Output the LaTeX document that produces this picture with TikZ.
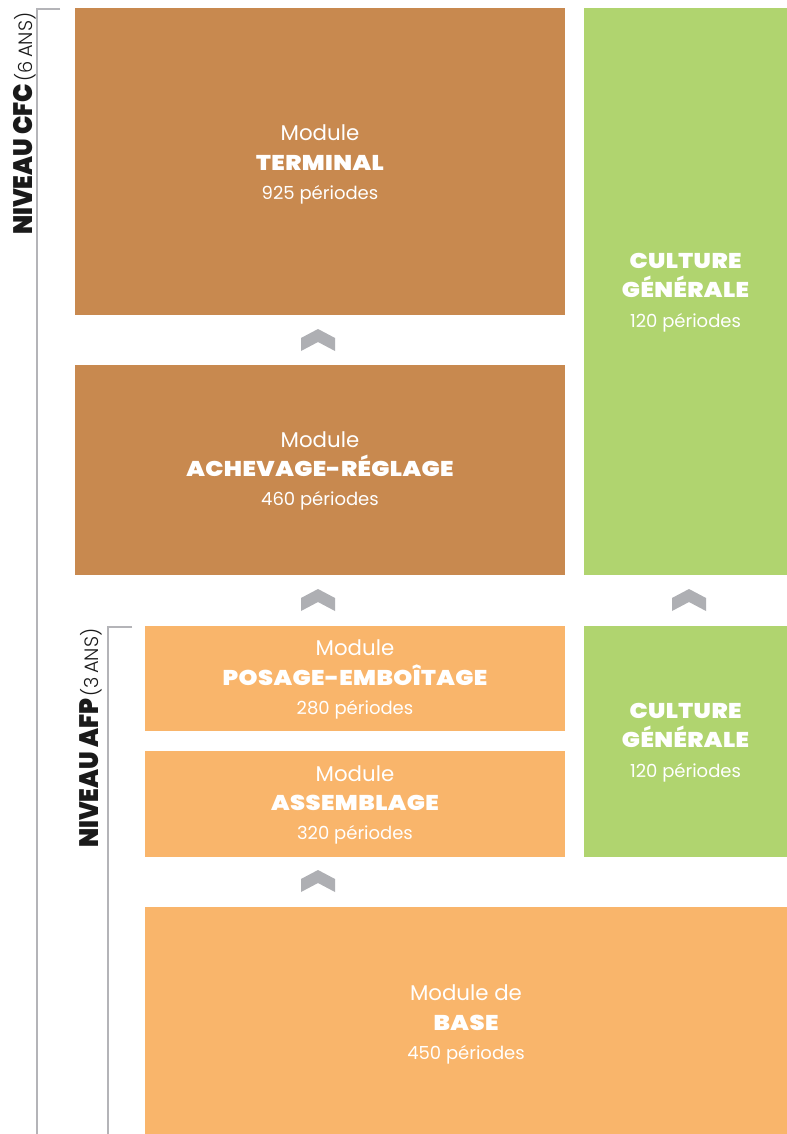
\documentclass[tikz,border=0pt]{standalone}
\usepackage{fontspec}
\setmainfont{Poppins}
\newfontfamily\heavy{Poppins Black}
\newfontfamily\light{Poppins Light}
\usetikzlibrary{calc}
\definecolor{brownbox}{HTML}{C8894F}
\definecolor{lightbox}{HTML}{F9B56B}
\definecolor{greenbox}{HTML}{B0D46F}
\definecolor{chevgray}{HTML}{AEAFB3}
\definecolor{linegray}{HTML}{B4B4B8}
\definecolor{labelblack}{HTML}{1A1A1A}
\newcommand{\hd}[1]{{\heavy\fontsize{16}{22}\selectfont\addfontfeature{FakeStretch=1.13,LetterSpace=2}#1}}
\newcommand{\pr}[1]{{\fontsize{13.5}{22}\selectfont #1}}
\newcommand{\lvlbold}[1]{{\heavy\fontsize{20}{20}\selectfont\addfontfeature{FakeStretch=0.92}#1}}
\newcommand{\lvllight}[1]{{\light\fontsize{14.5}{14.5}\selectfont #1}}
\begin{document}
\begin{tikzpicture}[x=0.75pt,y=-0.75pt,
  box/.style={rectangle, inner sep=0pt, outer sep=0pt},
  boxtext/.style={text=white, align=center, inner sep=0pt,
    font=\fontsize{16}{22}\selectfont},
  bracket/.style={draw=linegray, line width=2.2pt},
  chev/.style={fill=chevgray},
  lvl/.style={rotate=90, anchor=base west, inner sep=0pt, text=labelblack}
]
\useasboundingbox (0,0) rectangle (787,1134);
\fill[white] (0,0) rectangle (787,1134);

% boxes
\node[box, fill=brownbox, minimum width=367.5pt, minimum height=230.25pt] (term) at (320,161.5) {};
\node[box, fill=brownbox, minimum width=367.5pt, minimum height=157.5pt] (ach) at (320,470) {};
\node[box, fill=greenbox, minimum width=152.25pt, minimum height=425.25pt] (cg1) at (685.5,291.5) {};
\node[box, fill=lightbox, minimum width=315pt, minimum height=78.75pt] (pos) at (355,678.5) {};
\node[box, fill=lightbox, minimum width=315pt, minimum height=79.5pt] (ass) at (355,804) {};
\node[box, fill=greenbox, minimum width=152.25pt, minimum height=173.25pt] (cg2) at (685.5,741.5) {};
\node[box, fill=lightbox, minimum width=481.5pt, minimum height=170.25pt] (base) at (466,1020.5) {};

% texts
\node[boxtext] (termt) at ($(term.center)+(0,3)$) {Module\\\hd{TERMINAL}\\\pr{925 périodes}};
\node[boxtext] (acht) at ($(ach.center)+(0,1)$) {Module\\\hd{ACHEVAGE-RÉGLAGE}\\\pr{460 périodes}};
\node[boxtext] (cg1t) at ($(cg1.center)+(0,1)$) {\hd{CULTURE}\\\hd{GÉNÉRALE}\\\pr{120 périodes}};
\node[boxtext] (post) at ($(pos.center)+(0,1)$) {Module\\\hd{POSAGE-EMBOÎTAGE}\\\pr{280 périodes}};
\node[boxtext] (asst) at ($(ass.center)+(0,1)$) {Module\\\hd{ASSEMBLAGE}\\\pr{320 périodes}};
\node[boxtext] (cg2t) at ($(cg2.center)+(0,1)$) {\hd{CULTURE}\\\hd{GÉNÉRALE}\\\pr{120 périodes}};
\node[boxtext] (baset) at ($(base.center)+(0,4)$) {Module de\\\hd{BASE}\\\pr{450 périodes}};

% chevrons
\foreach \cx/\ty in {318/329, 318/589, 689/589, 318/870}{
  \fill[chev] (\cx-17,\ty+9) -- (\cx,\ty) -- (\cx+17,\ty+9) -- (\cx+17,\ty+22)
     -- (\cx,\ty+13) -- (\cx-17,\ty+22) -- cycle;
}

% brackets
\coordinate (cfcT) at (60,9);
\coordinate (cfcC) at (37,9);
\coordinate (cfcB) at (37,1134);
\draw[bracket] (cfcT) -- (cfcC) -- (cfcB);
\coordinate (afpT) at (132,627);
\coordinate (afpC) at (108,627);
\coordinate (afpB) at (108,1134);
\draw[bracket] (afpT) -- (afpC) -- (afpB);

% level labels
\node[lvl] (cfc) at (32,235) {\lvlbold{NIVEAU CFC}\,\lvllight{(6\,ANS)}};
\node[lvl] (afp) at (98,848) {\lvlbold{NIVEAU AFP}\,\lvllight{(3\,ANS)}};
\end{tikzpicture}
\end{document}
